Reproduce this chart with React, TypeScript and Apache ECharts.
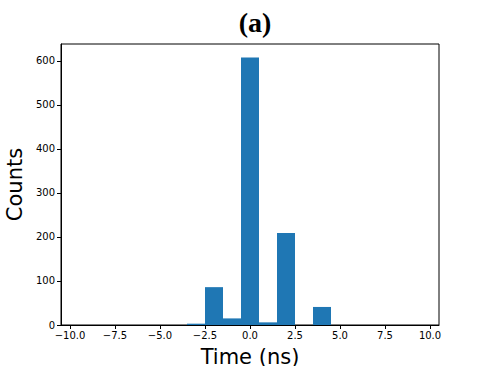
import React, { useEffect, useRef } from "react";
import * as echarts from "echarts";

const binCenters = [-3, -2, -1, 0, 1, 2, 4];
const counts = [3, 86, 15, 608, 6, 209, 41];
const binWidth = 1;
const xTicks = [-10, -7.5, -5, -2.5, 0, 2.5, 5, 7.5, 10];
const yTicks = [0, 100, 200, 300, 400, 500, 600];

export default function App() {
  const ref = useRef<HTMLDivElement>(null);
  useEffect(() => {
    const chart = echarts.init(ref.current!, null, { renderer: "svg" });
    const data = binCenters.map((c, i) => [c - binWidth / 2, c + binWidth / 2, counts[i]]);
    const font = "DejaVu Sans";
    chart.setOption({
      animation: false,
      title: {
        text: "(a)",
        left: 250,
        top: 3,
        textAlign: "center",
        textStyle: { fontFamily: "Liberation Serif", fontWeight: "bold", fontSize: 28, color: "#000" },
      },
      grid: {
        left: 61, right: 49, top: 44, bottom: 41,
        containLabel: false, outerBoundsMode: "none",
        show: true, borderColor: "#000", borderWidth: 1, backgroundColor: "transparent",
      },
      xAxis: {
        type: "value",
        min: -10.5,
        max: 10.5,
        name: "Time (ns)",
        nameLocation: "middle",
        nameGap: 21,
        nameTextStyle: { fontFamily: font, fontSize: 21, color: "#000" },
        axisLine: { show: true, onZero: false, lineStyle: { color: "#000", width: 1 } },
        axisTick: { show: true, length: 4, customValues: xTicks, lineStyle: { color: "#000" } },
        axisLabel: {
          customValues: xTicks,
          fontFamily: font,
          fontSize: 10,
          color: "#000",
          margin: 5,
          formatter: (v: number) => v.toFixed(1).replace("-", "\u2212"),
        },
        splitLine: { show: false },
      },
      yAxis: {
        type: "value",
        min: 0,
        max: 638.4,
        name: "Counts",
        nameLocation: "middle",
        nameGap: 32,
        nameTextStyle: { fontFamily: font, fontSize: 21, color: "#000" },
        axisLine: { show: true, onZero: false, lineStyle: { color: "#000", width: 1 } },
        axisTick: { show: true, length: 4, customValues: yTicks, lineStyle: { color: "#000" } },
        axisLabel: { customValues: yTicks, fontFamily: font, fontSize: 10, color: "#000", margin: 6 },
        splitLine: { show: false },
      },
      series: [
        {
          type: "custom",
          data,
          renderItem: (params: any, api: any) => {
            const p0 = api.coord([api.value(0), api.value(2)]);
            const p1 = api.coord([api.value(1), 0]);
            return {
              type: "rect",
              shape: { x: p0[0], y: p0[1], width: p1[0] - p0[0], height: p1[1] - p0[1] },
              style: { fill: "#1f77b4" },
            };
          },
        },
      ],
    });
    return () => chart.dispose();
  }, []);
  return <div ref={ref} style={{ width: 488, height: 366, position: "absolute", left: 0, top: 0 }} />;
}
